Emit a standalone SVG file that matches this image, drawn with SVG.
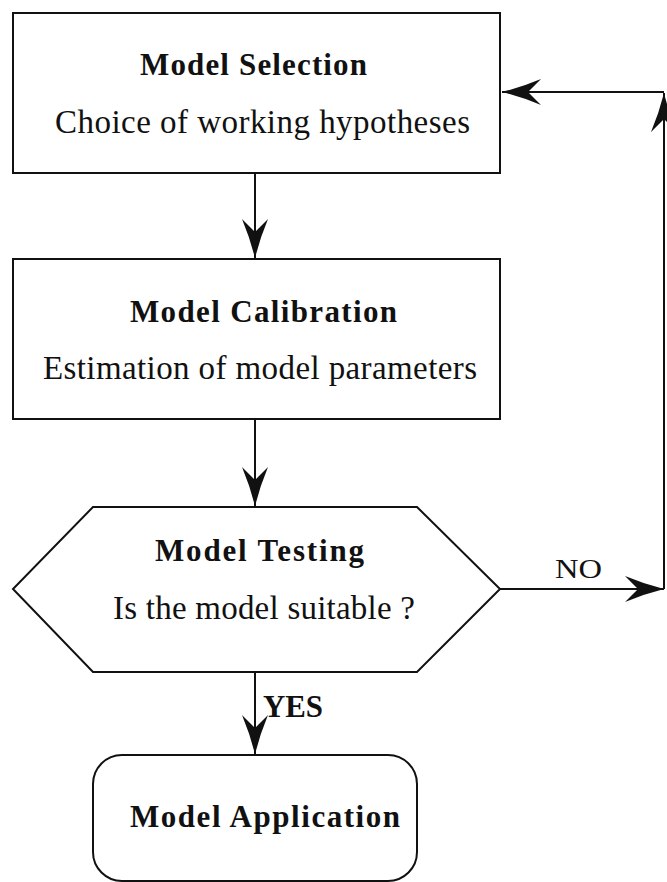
<svg xmlns="http://www.w3.org/2000/svg" width="667" height="882" viewBox="0 0 667 882">
<defs>
<style>
.shape{fill:none;stroke:#111;stroke-width:2}
.conn{fill:none;stroke:#111;stroke-width:2}
.title{font-family:"Liberation Serif","Times New Roman",serif;font-weight:bold;font-size:31px;fill:#111}
.sub{font-family:"Liberation Serif","Times New Roman",serif;font-size:33px;fill:#111}
.lbl{font-family:"Liberation Serif","Times New Roman",serif;font-size:28px;fill:#111}
</style>
<marker id="arr" markerUnits="userSpaceOnUse" markerWidth="42" markerHeight="28" viewBox="0 0 42 28" refX="40" refY="14" orient="auto">
<path d="M40,14 Q20,9 1,1 L14,14 L1,27 Q20,19 40,14 Z" fill="#111"/>
</marker>
</defs>
<rect width="667" height="882" fill="#fff"/>
<g id="connectors">
<path class="conn" d="M255,173 L255,258" marker-end="url(#arr)"/>
<path class="conn" d="M255,419 L255,506" marker-end="url(#arr)"/>
<path class="conn" d="M255,672 L255,754" marker-end="url(#arr)"/>
<path class="conn" d="M500,589 L664,589" marker-end="url(#arr)"/>
<path class="conn" d="M664,589 L664,93" marker-end="url(#arr)"/>
<path class="conn" d="M664,92 L502,92" marker-end="url(#arr)"/>
<text class="lbl" x="555" y="578" textLength="47" lengthAdjust="spacingAndGlyphs">NO</text>
<text class="title" x="263" y="717" textLength="60" lengthAdjust="spacingAndGlyphs">YES</text>
</g>
<g id="model-selection">
<rect class="shape" x="13" y="13" width="487" height="160"/>
<text class="title" x="140" y="75" textLength="227">Model Selection</text>
<text class="sub" x="55" y="133" textLength="415">Choice of working hypotheses</text>
</g>
<g id="model-calibration">
<rect class="shape" x="13" y="259" width="487" height="160"/>
<text class="title" x="130" y="322" textLength="267">Model Calibration</text>
<text class="sub" x="43" y="379" textLength="434">Estimation of model parameters</text>
</g>
<g id="model-testing">
<polygon class="shape" points="93,507 417,507 500,589 417,672 93,672 13,589"/>
<text class="title" x="155" y="561" textLength="209">Model Testing</text>
<text class="sub" x="113" y="619" textLength="302">Is the model suitable ?</text>
</g>
<g id="model-application">
<rect class="shape" x="93" y="755" width="324" height="126" rx="29" ry="29"/>
<text class="title" x="130" y="827" font-size="31" textLength="270">Model Application</text>
</g>
</svg>
